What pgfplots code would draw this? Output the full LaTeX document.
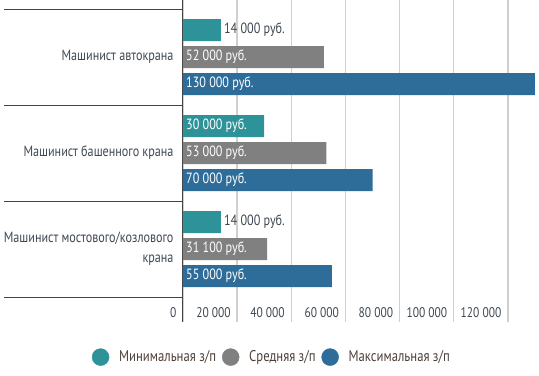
\documentclass[border=0pt]{standalone}
\usepackage{fontspec}
\setmainfont{PT Sans}[FakeStretch=0.82]
\usepackage{pgfplots}
\pgfplotsset{compat=1.18}
\definecolor{cTeal}{HTML}{2E9399}
\definecolor{cGray}{HTML}{808080}
\definecolor{cBlue}{HTML}{2E6C9A}
\definecolor{cText}{HTML}{3E4852}
\definecolor{cLeg}{HTML}{4D4038}
\definecolor{cGrid}{HTML}{D0D0D0}
\definecolor{cAxis}{HTML}{444444}
\begin{document}
\begin{tikzpicture}
\begin{axis}[
  name=ax,
  scale only axis,
  width=356pt, height=322pt,
  xmin=0, xmax=131500,
  ymin=-0.760, ymax=2.594,
  clip=false,
  scaled x ticks=false,
  axis lines*=left,
  axis line style={-},
  x axis line style={draw=none},
  y axis line style={draw=cAxis, line width=1pt},
  xtick={0,20000,40000,60000,80000,100000,120000},
  xticklabels={0,20 000,40 000,60 000,80 000,100 000,120 000},
  x tick style={draw=none},
  xticklabel style={anchor=east, yshift=9pt, xshift=-3pt, font=\fontsize{14}{16}\selectfont, text=cText},
  xmajorgrids,
  grid style={draw=cGrid, line width=1.4pt},
  ytick={-0.5,0.5,1.5,2.5},
  yticklabels={},
  y tick style={draw=cAxis, line width=1pt, xshift=-179pt},
  major tick length=179pt,
  tick align=inside,
  extra y ticks={0,1,2},
  extra y tick labels={{Машинист мостового/козлового\\крана},{Машинист башенного крана},{Машинист автокрана}},
  extra y tick style={y tick style={draw=none},
     yticklabel style={align=right, font=\fontsize{14.8}{20}\selectfont, text=cText, xshift=-6pt}},
  legend style={at={(0.25,-0.109)}, anchor=center, draw=none, fill=none,
     legend columns=3, font=\fontsize{15.5}{18}\selectfont, text=cLeg,
     /tikz/every odd column/.append style={column sep=8pt},
     /tikz/every even column/.append style={column sep=4pt}},
  legend cell align=left,
]
% bars: y=2 autokran, y=1 bashennyi, y=0 mostovoi
\addplot[xbar, bar width=22pt, bar shift=27pt, fill=cTeal, draw=none, forget plot]
  coordinates {(14000,2) (30000,1) (14000,0)};
\addplot[xbar, bar width=22pt, bar shift=0pt, fill=cGray, draw=none, forget plot]
  coordinates {(52000,2) (53000,1) (31100,0)};
\addplot[xbar, bar width=22pt, bar shift=-27pt, fill=cBlue, draw=none, forget plot]
  coordinates {(130000,2) (70000,1) (55000,0)};
% value labels inside bars (white)
\addplot[only marks, mark=none, forget plot, point meta=explicit symbolic,
  nodes near coords, nodes near coords align={anchor=west},
  nodes near coords style={text=white, font=\fontsize{14.8}{16}\selectfont, yshift=27pt, inner sep=1pt, xshift=2pt}]
  coordinates {(0,1) [30 000 руб.]};
\addplot[only marks, mark=none, forget plot, point meta=explicit symbolic,
  nodes near coords, nodes near coords align={anchor=west},
  nodes near coords style={text=white, font=\fontsize{14.8}{16}\selectfont, inner sep=1pt, xshift=2pt}]
  coordinates {(0,2) [52 000 руб.] (0,1) [53 000 руб.] (0,0) [31 100 руб.]};
\addplot[only marks, mark=none, forget plot, point meta=explicit symbolic,
  nodes near coords, nodes near coords align={anchor=west},
  nodes near coords style={text=white, font=\fontsize{14.8}{16}\selectfont, yshift=-27pt, inner sep=1pt, xshift=2pt}]
  coordinates {(0,2) [130 000 руб.] (0,1) [70 000 руб.] (0,0) [55 000 руб.]};
% value labels outside short bars
\addplot[only marks, mark=none, forget plot, point meta=explicit symbolic,
  nodes near coords, nodes near coords align={anchor=west},
  nodes near coords style={text=cText, font=\fontsize{14.8}{16}\selectfont, yshift=27pt, inner sep=1pt, xshift=2pt}]
  coordinates {(14000,2) [14 000 руб.] (14000,0) [14 000 руб.]};
% legend
\addlegendimage{only marks, mark=*, mark size=8.5pt, mark options={fill=cTeal, draw=cTeal}}
\addlegendentry{Минимальная з/п}
\addlegendimage{only marks, mark=*, mark size=8.5pt, mark options={fill=cGray, draw=cGray}}
\addlegendentry{Средняя з/п}
\addlegendimage{only marks, mark=*, mark size=8.5pt, mark options={fill=cBlue, draw=cBlue}}
\addlegendentry{Максимальная з/п}
\end{axis}
\pgfresetboundingbox
\path[use as bounding box] ([xshift=-183pt, yshift=-53pt]ax.south west) rectangle (ax.north east);
\end{tikzpicture}
\end{document}
